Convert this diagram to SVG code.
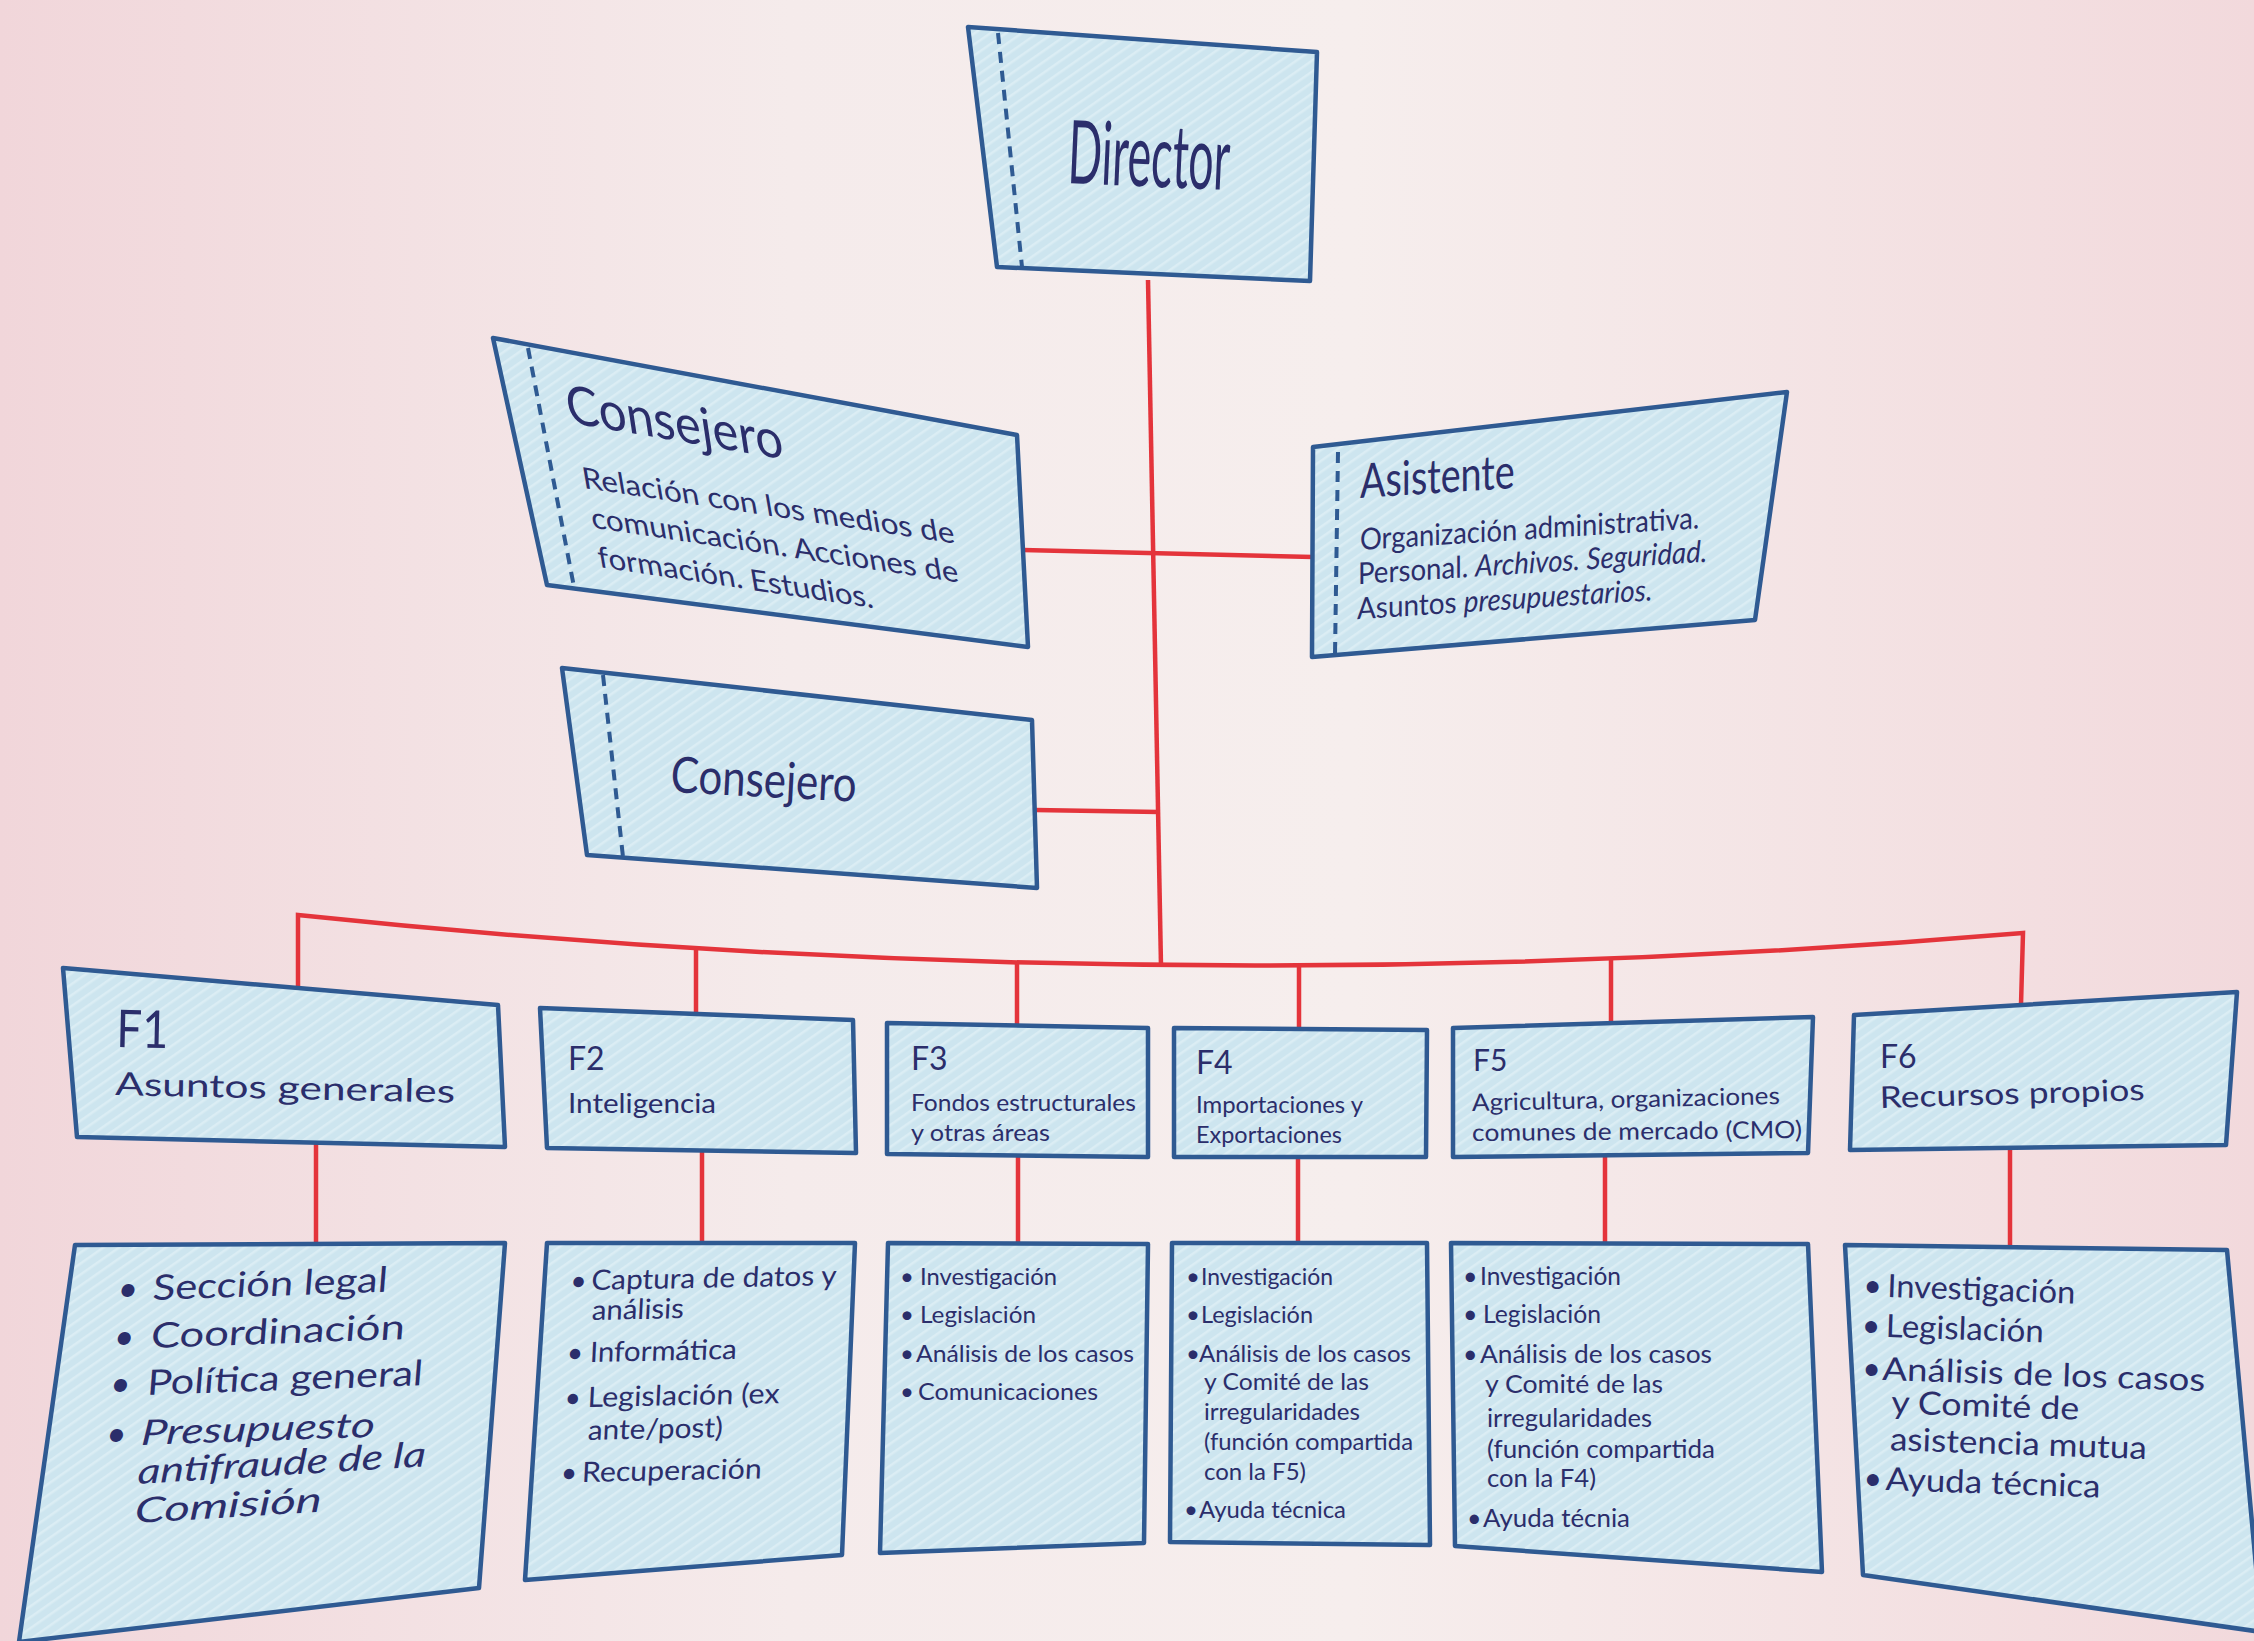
<svg xmlns="http://www.w3.org/2000/svg" width="2254" height="1641" viewBox="0 0 2254 1641">
<defs>
<linearGradient id="bg" x1="0" y1="0" x2="1" y2="0">
<stop offset="0" stop-color="#f1d6da"/>
<stop offset="0.35" stop-color="#f5ebeb"/>
<stop offset="0.6" stop-color="#f6eeed"/>
<stop offset="1" stop-color="#f2d9dc"/>
</linearGradient>
<pattern id="hatch" width="9" height="9" patternUnits="userSpaceOnUse" patternTransform="rotate(-35)">
<rect width="9" height="9" fill="#cde5ef"/>
<rect width="9" height="2.5" fill="#dbedf4"/>
</pattern>
<style>
.box{fill:url(#hatch);stroke:#2f5a92;stroke-width:4.5;stroke-linejoin:round}
.dash{fill:none;stroke:#2f5a92;stroke-width:4;stroke-dasharray:11 8}
.conn{fill:none;stroke:#e4343b;stroke-width:4.5}
text{font-family:Lato,"Open Sans","Liberation Sans",sans-serif;fill:#2b2e6b}
.it{font-style:italic}
.t88{font-size:88px}
.t55{font-size:55px}
.t50{font-size:50px}
.t48{font-size:48px}
.t35{font-size:35px}
.t32{font-size:32px}
.t30{font-size:30px}
.t27{font-size:27px}
.t26{font-size:26px}
.t25{font-size:25px}
.t24{font-size:24px}
.t28{font-size:28px}
</style>
</defs>
<rect width="2254" height="1641" fill="url(#bg)"/>

<g id="connectors">
<path class="conn" d="M1148,280 L1161,966"/>
<path class="conn" d="M1023,550 L1313,557"/>
<path class="conn" d="M1035,810 L1159,812"/>
<path class="conn" d="M298,989 L298,915 Q1160,1006 2023,933 L2021,1005"/>
<path class="conn" d="M696,1014 L696,948"/>
<path class="conn" d="M1017,1025 L1017,962"/>
<path class="conn" d="M1299,1029 L1299,965"/>
<path class="conn" d="M1611,1023 L1611,959"/>
<path class="conn" d="M316,1143 L316,1244"/>
<path class="conn" d="M702,1150 L702,1243"/>
<path class="conn" d="M1018,1156 L1018,1244"/>
<path class="conn" d="M1298,1157 L1298,1243"/>
<path class="conn" d="M1605,1155 L1605,1244"/>
<path class="conn" d="M2010,1148 L2010,1247"/>
</g>

<g id="director">
<polygon class="box" points="968,27 1317,52 1310,281 997,267"/>
<line class="dash" x1="998" y1="33" x2="1022" y2="267"/>
<text class="t88" transform="translate(1067,183) rotate(2.5)" textLength="162" lengthAdjust="spacingAndGlyphs">Director</text>
</g>

<g id="consejero1">
<polygon class="box" points="493,338 1017,435 1028,647 547,585"/>
<line class="dash" x1="528" y1="348" x2="574" y2="587"/>
<g transform="matrix(0.989,0.148,0.17,0.985,584,488)">
<text class="t55" x="-4" y="-66" transform="rotate(1.3 -4 -66)" textLength="218" lengthAdjust="spacingAndGlyphs">Consejero</text>
<text class="t30" x="0" y="0" textLength="376" lengthAdjust="spacingAndGlyphs">Relación con los medios de</text>
<text class="t30" x="2" y="40" textLength="371" lengthAdjust="spacingAndGlyphs">comunicación. Acciones de</text>
<text class="t30" x="2" y="80" textLength="278" lengthAdjust="spacingAndGlyphs">formación. Estudios.</text>
</g>
</g>

<g id="asistente">
<polygon class="box" points="1313,447 1787,392 1755,620 1312,657"/>
<line class="dash" x1="1338" y1="452" x2="1335" y2="655"/>
<g transform="matrix(0.998,-0.064,0,1,1360,550)">
<text class="t48" x="0" y="-52" textLength="155" lengthAdjust="spacingAndGlyphs">Asistente</text>
<text class="t30" x="0" y="0" textLength="340" lengthAdjust="spacingAndGlyphs">Organización administrativa.</text>
<text class="t30" x="-2" y="34" textLength="350" lengthAdjust="spacingAndGlyphs">Personal. <tspan class="it">Archivos. Seguridad.</tspan></text>
<text class="t30" x="-3" y="69" textLength="296" lengthAdjust="spacingAndGlyphs">Asuntos <tspan class="it">presupuestarios.</tspan></text>
</g>
</g>

<g id="consejero2">
<polygon class="box" points="562,668 1032,720 1037,888 587,855"/>
<line class="dash" x1="603" y1="675" x2="623" y2="857"/>
<text class="t50" transform="translate(670,792) rotate(3)" textLength="186" lengthAdjust="spacingAndGlyphs">Consejero</text>
</g>

<g id="f1">
<polygon class="box" points="63,968 498,1005 505,1147 77,1137"/>
<g transform="rotate(1.3 116 1047)">
<text x="116" y="1047" style="font-size:52px" textLength="52" lengthAdjust="spacingAndGlyphs">F1</text>
<text class="t32" x="116" y="1095" textLength="340" lengthAdjust="spacingAndGlyphs">Asuntos generales</text>
</g>
</g>

<g id="f2">
<polygon class="box" points="540,1008 853,1020 856,1153 547,1148"/>
<text class="t32" x="568" y="1070">F2</text>
<text class="t27" x="568" y="1113" textLength="148" lengthAdjust="spacingAndGlyphs">Inteligencia</text>
</g>

<g id="f3">
<polygon class="box" points="887,1023 1148,1028 1148,1157 887,1154"/>
<text class="t32" x="911" y="1070">F3</text>
<text class="t24" x="911" y="1111" textLength="225" lengthAdjust="spacingAndGlyphs">Fondos estructurales</text>
<text class="t24" x="911" y="1141" textLength="139" lengthAdjust="spacingAndGlyphs">y otras áreas</text>
</g>

<g id="f4">
<polygon class="box" points="1174,1028 1427,1030 1426,1157 1174,1157"/>
<text class="t32" x="1196" y="1074">F4</text>
<text class="t24" x="1196" y="1113" textLength="167" lengthAdjust="spacingAndGlyphs">Importaciones y</text>
<text class="t24" x="1196" y="1143" textLength="146" lengthAdjust="spacingAndGlyphs">Exportaciones</text>
</g>

<g id="f5">
<polygon class="box" points="1453,1028 1813,1017 1808,1153 1453,1157"/>
<text class="t30" x="1473" y="1071">F5</text>
<text class="t24" x="1472" y="1111" transform="rotate(-1.3 1472 1111)" textLength="308" lengthAdjust="spacingAndGlyphs">Agricultura, organizaciones</text>
<text class="t24" x="1472" y="1141" transform="rotate(-0.5 1472 1141)" textLength="330" lengthAdjust="spacingAndGlyphs">comunes de mercado (CMO)</text>
</g>

<g id="f6">
<polygon class="box" points="1854,1015 2237,992 2226,1145 1850,1150"/>
<text class="t32" x="1880" y="1068">F6</text>
<text class="t30" x="1880" y="1108" transform="rotate(-1.7 1880 1108)" textLength="265" lengthAdjust="spacingAndGlyphs">Recursos propios</text>
</g>

<g id="b1">
<polygon class="box" points="75,1245 505,1243 479,1588 19,1642"/>
<g transform="matrix(0.999,-0.035,-0.08,1,152,1300)">
<text class="t35" y="0"><tspan x="-35">•</tspan><tspan x="0" textLength="235" lengthAdjust="spacingAndGlyphs">Sección legal</tspan></text>
<text class="t35" y="48"><tspan x="-35">•</tspan><tspan x="2" textLength="254" lengthAdjust="spacingAndGlyphs">Coordinación</tspan></text>
<text class="t35" y="95"><tspan x="-35">•</tspan><tspan x="2" textLength="276" lengthAdjust="spacingAndGlyphs">Política general</tspan></text>
<text class="t35" y="145"><tspan x="-35">•</tspan><tspan class="it" x="0" textLength="234" lengthAdjust="spacingAndGlyphs">Presupuesto</tspan></text>
<text class="t35 it" x="0" y="184" transform="rotate(-1.5 0 184)" textLength="288" lengthAdjust="spacingAndGlyphs">antifraude de la</text>
<text class="t35 it" x="0" y="223" transform="rotate(-1.5 0 223)" textLength="187" lengthAdjust="spacingAndGlyphs">Comisión</text>
</g>
</g>

<g id="b2">
<polygon class="box" points="547,1243 855,1243 842,1555 525,1580"/>
<g transform="matrix(1,-0.02,-0.05,1,591,1290)">
<text class="t28" y="0"><tspan x="-21">•</tspan><tspan x="0" textLength="245" lengthAdjust="spacingAndGlyphs">Captura de datos y</tspan></text>
<text class="t28" x="2" y="30" textLength="92" lengthAdjust="spacingAndGlyphs">análisis</text>
<text class="t28" y="72"><tspan x="-21">•</tspan><tspan x="2" textLength="147" lengthAdjust="spacingAndGlyphs">Informática</tspan></text>
<text class="t28" y="117"><tspan x="-21">•</tspan><tspan x="2" textLength="192" lengthAdjust="spacingAndGlyphs">Legislación (ex</tspan></text>
<text class="t28" x="4" y="150" textLength="135" lengthAdjust="spacingAndGlyphs">ante/post)</text>
<text class="t28" y="192"><tspan x="-21">•</tspan><tspan x="0" textLength="180" lengthAdjust="spacingAndGlyphs">Recuperación</tspan></text>
</g>
</g>

<g id="b3">
<polygon class="box" points="888,1243 1148,1244 1144,1543 880,1553"/>
<text class="t24" y="1285"><tspan x="900">•</tspan><tspan x="920" textLength="137" lengthAdjust="spacingAndGlyphs">Investigación</tspan></text>
<text class="t24" y="1323"><tspan x="900">•</tspan><tspan x="920" textLength="116" lengthAdjust="spacingAndGlyphs">Legislación</tspan></text>
<text class="t24" y="1362"><tspan x="900">•</tspan><tspan x="916" textLength="218" lengthAdjust="spacingAndGlyphs">Análisis de los casos</tspan></text>
<text class="t24" y="1400"><tspan x="900">•</tspan><tspan x="918" textLength="180" lengthAdjust="spacingAndGlyphs">Comunicaciones</tspan></text>
</g>

<g id="b4">
<polygon class="box" points="1172,1243 1427,1243 1430,1545 1170,1542"/>
<text class="t24" y="1285"><tspan x="1186">•</tspan><tspan x="1201" textLength="132" lengthAdjust="spacingAndGlyphs">Investigación</tspan></text>
<text class="t24" y="1323"><tspan x="1186">•</tspan><tspan x="1201" textLength="112" lengthAdjust="spacingAndGlyphs">Legislación</tspan></text>
<text class="t24" y="1362"><tspan x="1186">•</tspan><tspan x="1199" textLength="212" lengthAdjust="spacingAndGlyphs">Análisis de los casos</tspan></text>
<text class="t24" x="1204" y="1390" textLength="165" lengthAdjust="spacingAndGlyphs">y Comité de las</text>
<text class="t24" x="1204" y="1420" textLength="156" lengthAdjust="spacingAndGlyphs">irregularidades</text>
<text class="t24" x="1204" y="1450" textLength="209" lengthAdjust="spacingAndGlyphs">(función compartida</text>
<text class="t24" x="1204" y="1480" textLength="102" lengthAdjust="spacingAndGlyphs">con la F5)</text>
<text class="t24" y="1518"><tspan x="1184">•</tspan><tspan x="1199" textLength="147" lengthAdjust="spacingAndGlyphs">Ayuda técnica</tspan></text>
</g>

<g id="b5">
<polygon class="box" points="1451,1243 1808,1244 1822,1572 1455,1546"/>
<text class="t25" y="1285"><tspan x="1463">•</tspan><tspan x="1480" textLength="141" lengthAdjust="spacingAndGlyphs">Investigación</tspan></text>
<text class="t25" y="1323"><tspan x="1463">•</tspan><tspan x="1483" textLength="118" lengthAdjust="spacingAndGlyphs">Legislación</tspan></text>
<text class="t25" y="1363"><tspan x="1463">•</tspan><tspan x="1480" textLength="232" lengthAdjust="spacingAndGlyphs">Análisis de los casos</tspan></text>
<text class="t25" x="1485" y="1393" textLength="178" lengthAdjust="spacingAndGlyphs">y Comité de las</text>
<text class="t25" x="1487" y="1427" textLength="165" lengthAdjust="spacingAndGlyphs">irregularidades</text>
<text class="t25" x="1487" y="1458" textLength="228" lengthAdjust="spacingAndGlyphs">(función compartida</text>
<text class="t25" x="1487" y="1487" textLength="109" lengthAdjust="spacingAndGlyphs">con la F4)</text>
<text class="t25" y="1527"><tspan x="1467">•</tspan><tspan x="1483" textLength="147" lengthAdjust="spacingAndGlyphs">Ayuda técnia</tspan></text>
</g>

<g id="b6">
<polygon class="box" points="1845,1245 2227,1250 2262,1632 1863,1575"/>
<g transform="translate(1887,1297) rotate(2)">
<text class="t32" y="0"><tspan x="-24">•</tspan><tspan x="0" textLength="188" lengthAdjust="spacingAndGlyphs">Investigación</tspan></text>
<text class="t32" y="40"><tspan x="-24">•</tspan><tspan x="0" textLength="158" lengthAdjust="spacingAndGlyphs">Legislación</tspan></text>
<text class="t32" y="83"><tspan x="-22">•</tspan><tspan x="-2" textLength="323" lengthAdjust="spacingAndGlyphs">Análisis de los casos</tspan></text>
<text class="t32" x="8" y="116" textLength="188" lengthAdjust="spacingAndGlyphs">y Comité de</text>
<text class="t32" x="8" y="153" textLength="257" lengthAdjust="spacingAndGlyphs">asistencia mutua</text>
<text class="t32" y="193"><tspan x="-17">•</tspan><tspan x="5" textLength="215" lengthAdjust="spacingAndGlyphs">Ayuda técnica</tspan></text>
</g>
</g>
</svg>
